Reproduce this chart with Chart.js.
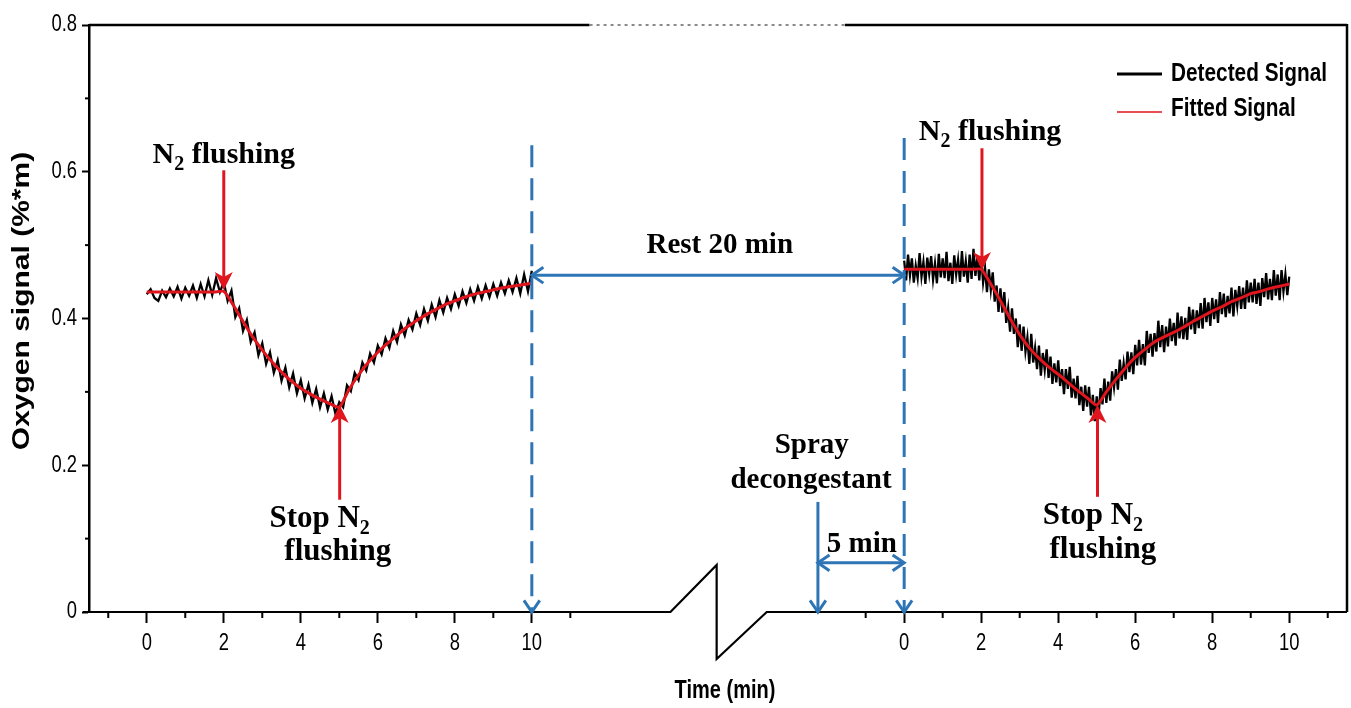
<!DOCTYPE html>
<html>
<head>
<meta charset="utf-8">
<title>Oxygen signal</title>
<style>
 body { margin: 0; background: #fff; }
</style>
</head>
<body>
<canvas id="chart" width="1351" height="708"></canvas>
<script src="https://cdn.jsdelivr.net/npm/chart.js@4.4.1/dist/chart.umd.min.js"></script>
<script>
// two runs share one axis; the second run is shifted right past the axis break
const seg2Offset = 19.67;
const xMin = -1.5, xMax = 31.17;
const xMajor = [0, 2, 4, 6, 8, 10];
const xMajorLabels = ['0', '2', '4', '6', '8', '10'];
const xMinor = [-1, 1, 3, 5, 7, 9, 11];
const yMajor = [0, 0.2, 0.4, 0.6, 0.8];
const yMajorLabels = ['0', '0.2', '0.4', '0.6', '0.8'];
const yMinor = [0.1, 0.3, 0.5, 0.7];

// run 1, detected signal, one sample every 0.1 min (0..10)
const det1Step = 0.1;
const det1 = [
 0.433,0.440,0.428,0.424,0.438,0.429,0.441,0.430,0.443,0.427,
 0.442,0.431,0.445,0.428,0.447,0.430,0.452,0.432,0.455,0.436,
 0.450,0.424,0.438,0.402,0.414,0.383,0.398,0.368,0.381,0.350,
 0.366,0.338,0.354,0.326,0.343,0.315,0.333,0.306,0.325,0.298,
 0.316,0.291,0.310,0.285,0.304,0.279,0.298,0.276,0.294,0.270,
 0.286,0.279,0.309,0.301,0.326,0.316,0.340,0.329,0.352,0.340,
 0.363,0.351,0.373,0.360,0.383,0.368,0.392,0.377,0.398,0.385,
 0.407,0.391,0.413,0.397,0.419,0.402,0.425,0.408,0.428,0.413,
 0.433,0.417,0.437,0.421,0.440,0.424,0.443,0.427,0.445,0.429,
 0.447,0.431,0.449,0.434,0.452,0.436,0.455,0.434,0.460,0.437,
 0.465
];

// run 2, detected signal, one sample every 0.05 min (0..10)
const det2Step = 0.05;
const det2 = [
 0.479,0.452,0.487,0.459,0.482,0.449,0.472,0.455,0.489,0.457,0.477,0.447,0.483,0.461,0.485,0.453,0.475,0.448,0.488,0.456,
 0.482,0.455,0.491,0.451,0.476,0.447,0.486,0.460,0.480,0.450,0.492,0.457,0.478,0.449,0.487,0.454,0.495,0.458,0.484,0.452,
 0.485,0.449,0.469,0.436,0.467,0.439,0.463,0.423,0.445,0.409,0.441,0.408,0.436,0.394,0.414,0.382,0.414,0.379,0.400,0.361,
 0.392,0.356,0.389,0.355,0.374,0.338,0.379,0.340,0.360,0.331,0.363,0.322,0.353,0.330,0.358,0.319,0.348,0.311,0.339,0.313,
 0.343,0.308,0.331,0.297,0.331,0.304,0.334,0.292,0.318,0.291,0.322,0.282,0.307,0.274,0.309,0.280,0.307,0.268,0.296,0.260,
 0.294,0.268,0.305,0.283,0.318,0.285,0.314,0.288,0.328,0.306,0.331,0.303,0.344,0.315,0.339,0.317,0.355,0.327,0.354,0.324,
 0.364,0.336,0.371,0.337,0.365,0.336,0.383,0.353,0.379,0.348,0.380,0.355,0.397,0.361,0.391,0.354,0.389,0.362,0.400,0.369,
 0.394,0.363,0.408,0.373,0.403,0.372,0.401,0.371,0.416,0.385,0.412,0.379,0.411,0.387,0.421,0.386,0.428,0.395,0.422,0.390,
 0.428,0.399,0.426,0.394,0.436,0.406,0.434,0.402,0.431,0.407,0.442,0.403,0.439,0.417,0.444,0.413,0.442,0.413,0.452,0.422,
 0.449,0.422,0.454,0.420,0.449,0.417,0.455,0.429,0.462,0.426,0.454,0.425,0.466,0.431,0.460,0.425,0.466,0.437,0.460,0.432,
 0.457
];

// fitted curves, one value every 0.25 min (0..10)
const fitStep = 0.25;
const fit1 = [
 0.436,0.436,0.436,0.436,0.436,0.436,0.436,0.436,0.437,
 0.418,0.396,0.375,0.357,0.341,0.327,0.315,0.305,0.297,0.290,0.284,0.279,
 0.303,0.323,0.340,0.354,0.366,0.377,0.388,0.397,0.405,0.412,0.419,0.424,0.429,0.433,0.436,0.439,0.442,0.444,0.446,0.448
];
const fit2 = [
 0.467,0.467,0.467,0.467,0.467,0.467,0.467,0.467,0.467,
 0.447,0.424,0.400,0.378,0.360,0.346,0.334,0.324,0.313,0.302,0.292,0.282,
 0.300,0.317,0.333,0.347,0.358,0.368,0.375,0.381,0.388,0.396,0.403,0.410,0.416,0.423,0.428,0.434,0.437,0.441,0.444,0.447
];

const RED = '#e0161e';
const BLUE = '#2e75b6';
const SANS = "'Liberation Sans', Arial, sans-serif";
const SERIF = "'Liberation Serif', 'Times New Roman', serif";

function joinRuns(a, stepA, b, stepB) {
  const pts = a.map((v, i) => ({x: i * stepA, y: v}));
  pts.push({x: (10 + seg2Offset) / 2, y: null});
  b.forEach((v, i) => pts.push({x: seg2Offset + i * stepB, y: v}));
  return pts;
}

const xTickValues = xMajor.concat(xMajor.map(v => v + seg2Offset));
const xTickLabels = xMajorLabels.concat(xMajorLabels);

// annotation layout (axis units)
const notes = [
  {parts: [['N', 0], ['2', 1], [' flushing', 0]], x: 2.0, y: 0.612, size: 30},
  {parts: [['Stop N', 0], ['2', 1]], x: 4.49, y: 0.116, size: 31},
  {parts: [['flushing', 0]], x: 4.96, y: 0.071, size: 31},
  {parts: [['Rest 20 min', 0]], x: 14.88, y: 0.489, size: 29},
  {parts: [['Spray', 0]], x: 17.27, y: 0.217, size: 29},
  {parts: [['decongestant', 0]], x: 17.25, y: 0.169, size: 29},
  {parts: [['5 min', 0]], x: 18.57, y: 0.082, size: 29},
  {parts: [['N', 0], ['2', 1], [' flushing', 0]], x: 21.9, y: 0.643, size: 30},
  {parts: [['Stop N', 0], ['2', 1]], x: 24.57, y: 0.12, size: 31},
  {parts: [['flushing', 0]], x: 24.83, y: 0.074, size: 31}
];
const redArrows = [
  {x: 2, from: 0.602, to: 0.439},
  {x: 5.01, from: 0.153, to: 0.282},
  {x: 21.69, from: 0.632, to: 0.466},
  {x: 24.69, from: 0.157, to: 0.282}
];
const dashedMarks = [{x: 10, from: 0.636}, {x: seg2Offset, from: 0.646}];
const sprayMark = {x: 17.43, from: 0.15};
const spans = [{y: 0.459, x1: 10, x2: seg2Offset}, {y: 0.067, x1: 17.43, x2: seg2Offset}];
const axisBreak = [13.6, 14.8, 16.1, 0.064];
const topGap = [11.5, 18.13];

// Arial-Narrow look: Liberation Sans squeezed sideways
function narrowText(ctx, text, x, y, size, bold, align) {
  ctx.save();
  ctx.translate(x, y);
  ctx.scale(0.8, 1);
  ctx.font = (bold ? 'bold ' : '') + size + 'px ' + SANS;
  ctx.textAlign = align;
  ctx.textBaseline = 'middle';
  ctx.fillText(text, 0, 0);
  ctx.restore();
}

function richText(ctx, parts, cx, base, size) {
  const big = 'bold ' + size + 'px ' + SERIF;
  const small = 'bold ' + Math.round(size * 0.65) + 'px ' + SERIF;
  let w = 0;
  parts.forEach(p => { ctx.font = p[1] ? small : big; w += ctx.measureText(p[0]).width; });
  let xx = cx - w / 2;
  ctx.textAlign = 'left';
  ctx.textBaseline = 'alphabetic';
  parts.forEach(p => {
    ctx.font = p[1] ? small : big;
    ctx.fillText(p[0], xx, base + (p[1] ? size * 0.22 : 0));
    xx += ctx.measureText(p[0]).width;
  });
}

function filledHead(ctx, x0, y0, x1, y1) {
  const dx = x1 - x0, dy = y1 - y0, len = Math.hypot(dx, dy);
  const ux = dx / len, uy = dy / len;
  const L = 18, W = 9;
  ctx.beginPath();
  ctx.moveTo(x1, y1);
  ctx.lineTo(x1 - ux * L - uy * W, y1 - uy * L + ux * W);
  ctx.lineTo(x1 - ux * (L - 5), y1 - uy * (L - 5));
  ctx.lineTo(x1 - ux * L + uy * W, y1 - uy * L - ux * W);
  ctx.closePath();
  ctx.fill();
}

function openHead(ctx, x0, y0, x1, y1) {
  const a = Math.atan2(y1 - y0, x1 - x0), L = 14, s = 0.6;
  ctx.beginPath();
  ctx.moveTo(x1 - L * Math.cos(a - s), y1 - L * Math.sin(a - s));
  ctx.lineTo(x1, y1);
  ctx.lineTo(x1 - L * Math.cos(a + s), y1 - L * Math.sin(a + s));
  ctx.stroke();
}

function seg(ctx, x0, y0, x1, y1) {
  ctx.beginPath(); ctx.moveTo(x0, y0); ctx.lineTo(x1, y1); ctx.stroke();
}

const decor = {
  id: 'decor',
  afterDatasetsDraw(chart) {
    const {ctx, chartArea: a, scales} = chart;
    const X = v => scales.x.getPixelForValue(v);
    const Y = v => scales.y.getPixelForValue(v);
    ctx.save();
    ctx.lineCap = 'butt';

    // frame: top with dotted gap, right side
    ctx.strokeStyle = '#000';
    ctx.lineWidth = 2.5;
    seg(ctx, a.left, a.top, X(topGap[0]), a.top);
    seg(ctx, X(topGap[1]), a.top, a.right, a.top);
    seg(ctx, a.right, a.top - 1, a.right, a.bottom);
    ctx.save();
    ctx.strokeStyle = '#8a8a8a';
    ctx.lineWidth = 2;
    ctx.setLineDash([3, 4]);
    seg(ctx, X(topGap[0]), a.top, X(topGap[1]), a.top);
    ctx.restore();

    // x axis line with the break
    ctx.beginPath();
    ctx.moveTo(a.left - 6, a.bottom);
    ctx.lineTo(X(axisBreak[0]), a.bottom);
    ctx.lineTo(X(axisBreak[1]), Y(axisBreak[3]));
    ctx.lineTo(X(axisBreak[1]), Y(-axisBreak[3]));
    ctx.lineTo(X(axisBreak[2]), a.bottom);
    ctx.lineTo(a.right, a.bottom);
    ctx.lineWidth = 2.2;
    ctx.stroke();

    // minor ticks
    ctx.lineWidth = 2;
    [0, seg2Offset].forEach(off => xMinor.forEach(m => seg(ctx, X(off + m), a.bottom, X(off + m), a.bottom + 6)));
    yMinor.forEach(m => seg(ctx, a.left - 4, Y(m), a.left, Y(m)));

    // tick labels, taken from the chart's own tick lists
    ctx.fillStyle = '#000';
    scales.x.ticks.forEach((t, i) => narrowText(ctx, xTickLabels[i], X(t.value), a.bottom + 32, 23, false, 'center'));
    scales.y.ticks.forEach((t, i) => narrowText(ctx, yMajorLabels[i], a.left - 12, Y(t.value), 23, false, 'right'));

    // blue guide lines
    ctx.strokeStyle = BLUE;
    ctx.lineWidth = 3;
    dashedMarks.forEach(d => {
      ctx.save();
      ctx.setLineDash([22, 11]);
      seg(ctx, X(d.x), Y(d.from), X(d.x), Y(0) - 2);
      ctx.restore();
      openHead(ctx, X(d.x), Y(d.from), X(d.x), Y(0));
    });
    seg(ctx, X(sprayMark.x), Y(sprayMark.from), X(sprayMark.x), Y(0) - 2);
    openHead(ctx, X(sprayMark.x), Y(sprayMark.from), X(sprayMark.x), Y(0));
    spans.forEach(s => {
      seg(ctx, X(s.x1) + 2, Y(s.y), X(s.x2) - 2, Y(s.y));
      openHead(ctx, X(s.x2), Y(s.y), X(s.x1), Y(s.y));
      openHead(ctx, X(s.x1), Y(s.y), X(s.x2), Y(s.y));
    });

    // red arrows
    ctx.strokeStyle = RED;
    ctx.fillStyle = RED;
    ctx.lineWidth = 3;
    redArrows.forEach(r => {
      const dir = r.to < r.from ? 1 : -1;
      seg(ctx, X(r.x), Y(r.from), X(r.x), Y(r.to) - dir * 12);
      filledHead(ctx, X(r.x), Y(r.from), X(r.x), Y(r.to));
    });

    // annotation text
    ctx.fillStyle = '#000';
    notes.forEach(n => richText(ctx, n.parts, X(n.x), Y(n.y), n.size));

    // legend
    const lx = 1117, lw = 45;
    chart.data.datasets.forEach((ds, i) => {
      const ly = 74 + i * 38;
      ctx.strokeStyle = ds.borderColor;
      ctx.lineWidth = i === 0 ? 3 : 1.6;
      seg(ctx, lx, ly, lx + lw, ly);
      ctx.fillStyle = '#000';
      narrowText(ctx, ds.label, lx + lw + 9, ly - i * 3, 26, true, 'left');
    });

    // axis titles
    narrowText(ctx, 'Time (min)', 725, 691, 25, true, 'center');
    ctx.save();
    ctx.translate(23, 301);
    ctx.scale(0.78, 1);
    ctx.rotate(-Math.PI / 2);
    ctx.font = 'bold 30px ' + SANS;
    ctx.textAlign = 'center';
    ctx.textBaseline = 'middle';
    ctx.fillText('Oxygen signal (%*m)', 0, 0);
    ctx.restore();

    ctx.restore();
  }
};

Chart.defaults.color = '#000';

new Chart(document.getElementById('chart'), {
  type: 'line',
  data: {
    datasets: [
      {
        label: 'Detected Signal',
        data: joinRuns(det1, det1Step, det2, det2Step),
        borderColor: '#000',
        borderWidth: 2.3,
        pointRadius: 0,
        tension: 0,
        order: 1
      },
      {
        label: 'Fitted Signal',
        data: joinRuns(fit1, fitStep, fit2, fitStep),
        borderColor: RED,
        borderWidth: 3,
        pointRadius: 0,
        tension: 0.2,
        order: 0
      }
    ]
  },
  options: {
    responsive: false,
    animation: false,
    devicePixelRatio: 1,
    layout: {padding: {top: 25, right: 4, bottom: 0, left: 0}},
    plugins: {legend: {display: false}, tooltip: {enabled: false}},
    scales: {
      x: {
        type: 'linear',
        min: xMin,
        max: xMax,
        afterBuildTicks: s => { s.ticks = xTickValues.map(v => ({value: v})); },
        afterFit: s => { s.height = 96; },
        ticks: {display: false, autoSkip: false, maxRotation: 0},
        grid: {drawOnChartArea: false, tickLength: 11, tickWidth: 2, tickColor: '#000'},
        border: {display: false}
      },
      y: {
        min: 0,
        max: 0.8,
        afterBuildTicks: s => { s.ticks = yMajor.map(v => ({value: v})); },
        afterFit: s => { s.width = 89; },
        ticks: {display: false},
        grid: {drawOnChartArea: false, tickLength: 7, tickWidth: 2, tickColor: '#000'},
        border: {display: true, color: '#000', width: 2.5}
      }
    }
  },
  plugins: [decor]
});
</script>
</body>
</html>
